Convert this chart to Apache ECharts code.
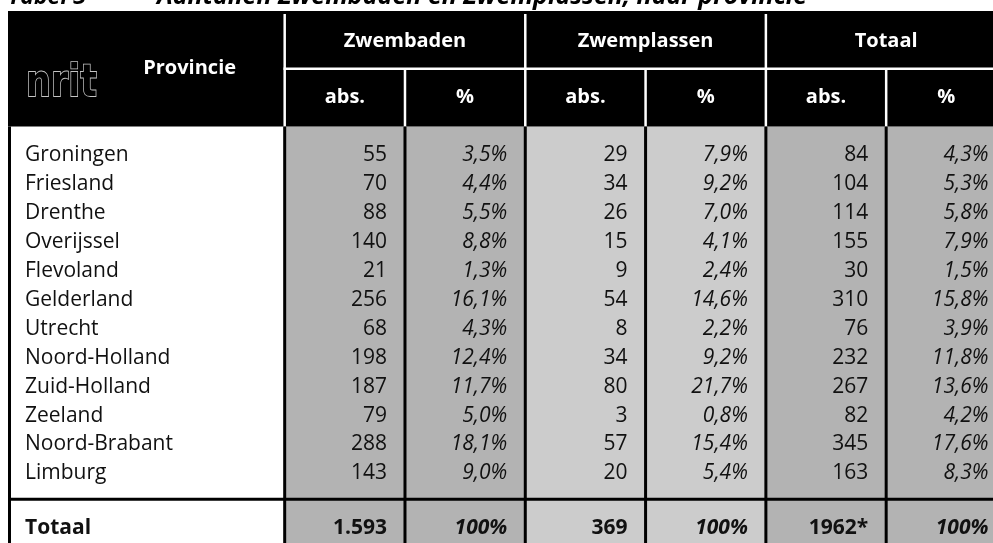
<!DOCTYPE html>
<html>
<head>
<meta charset="utf-8">
<title>Aantallen zwembaden en zwemplassen, naar provincie</title>
<script src="https://cdn.jsdelivr.net/npm/echarts@6/dist/echarts.min.js"></script>
<style>
  html, body { margin: 0; padding: 0; background: #fff; }
  #chart { width: 993px; height: 543px; }
</style>
</head>
<body>
<div id="chart"></div>
<script>
// gegevens uit de tabel
const provincies = ['Groningen', 'Friesland', 'Drenthe', 'Overijssel', 'Flevoland', 'Gelderland',
  'Utrecht', 'Noord-Holland', 'Zuid-Holland', 'Zeeland', 'Noord-Brabant', 'Limburg'];
const zwembadenAbs = [55, 70, 88, 140, 21, 256, 68, 198, 187, 79, 288, 143];
const zwembadenPct = [3.5, 4.4, 5.5, 8.8, 1.3, 16.1, 4.3, 12.4, 11.7, 5.0, 18.1, 9.0];
const zwemplassenAbs = [29, 34, 26, 15, 9, 54, 8, 34, 80, 3, 57, 20];
const zwemplassenPct = [7.9, 9.2, 7.0, 4.1, 2.4, 14.6, 2.2, 9.2, 21.7, 0.8, 15.4, 5.4];
const totaalAbs = [84, 104, 114, 155, 30, 310, 76, 232, 267, 82, 345, 163];
const totaalPct = [4.3, 5.3, 5.8, 7.9, 1.5, 15.8, 3.9, 11.8, 13.6, 4.2, 17.6, 8.3];
const totaalRij = ['Totaal', '1.593', '100%', '369', '100%', '1962*', '100%'];
const groepen = ['Zwembaden', 'Zwemplassen', 'Totaal'];
const kolomKoppen = ['abs.', '%'];
const titel = ['Tabel 3', 'Aantallen Zwembaden en Zwemplassen, naar provincie'];

// opmaak (eenheden: x = kolombreedte, y = rijhoogte)
const colEdges = [0, 2.3, 3.3, 4.3, 5.3, 6.3, 7.3, 8.3];
const colFill = ['#ffffff', '#b3b3b3', '#b3b3b3', '#cccccc', '#cccccc', '#b3b3b3', '#b3b3b3'];
const XMAX = 8.188;
const YMAX = 18.41;
const HEAD = 4;      // kop = 2 rijen van 2 eenheden
const FIRST = 5;     // midden eerste provincie
const SEP = 16.9;    // lijn boven totaal
const TOT = 17.9;    // midden totaalrij

const FONT = '"Open Sans", "Noto Sans", sans-serif';
const KOP = 'bold 20px ' + FONT;
const TEKST = '21px ' + FONT;
const CURSIEF = 'italic 21px ' + FONT;
const VET = 'bold 21px ' + FONT;
const VETCURSIEF = 'bold italic 21px ' + FONT;
const INKT = '#111';

const pct = v => v.toFixed(1).replace('.', ',') + '%';

// cellen opbouwen
const cellen = [];
cellen.push({ x: 1.51, y: HEAD / 2, t: 'Provincie', a: 'center', f: KOP, c: '#fff' });
groepen.forEach((g, i) => {
  cellen.push({ x: colEdges[2 + 2 * i], y: 1.05, t: g, a: 'center', f: KOP, c: '#fff' });
  kolomKoppen.forEach((k, j) => {
    const col = 1 + 2 * i + j;
    cellen.push({ x: (colEdges[col] + colEdges[col + 1]) / 2, y: 3, t: k, a: 'center', f: KOP, c: '#fff' });
  });
});
provincies.forEach((naam, i) => {
  const y = FIRST + i;
  const rij = [naam, zwembadenAbs[i], pct(zwembadenPct[i]), zwemplassenAbs[i], pct(zwemplassenPct[i]),
    totaalAbs[i], pct(totaalPct[i])];
  rij.forEach((t, col) => {
    if (col === 0) cellen.push({ x: colEdges[0], y, t, a: 'left', f: TEKST, c: INKT });
    else cellen.push({ x: colEdges[col + 1], y, t: String(t), a: 'right', f: col % 2 === 0 ? CURSIEF : TEKST, c: INKT });
  });
});
totaalRij.forEach((t, col) => {
  if (col === 0) cellen.push({ x: colEdges[0], y: TOT, t, a: 'left', f: VET, c: INKT });
  else cellen.push({ x: colEdges[col + 1], y: TOT, t, a: 'right', f: col % 2 === 0 ? VETCURSIEF : VET, c: INKT });
});

function renderFrame(params, api) {
  const children = [];
  const p = (x, y) => api.coord([x, y]);
  const rect = (x1, y1, x2, y2, fill) => {
    const a = p(x1, y1), b = p(x2, y2);
    children.push({ type: 'rect', shape: { x: a[0], y: a[1], width: b[0] - a[0], height: b[1] - a[1] }, style: { fill } });
  };
  const vline = (x, y1, y2, w, fill, dy) => {
    const a = p(x, y1), b = p(x, y2);
    children.push({ type: 'rect', shape: { x: a[0] - w / 2, y: a[1] + (dy || 0), width: w, height: b[1] - a[1] - (dy || 0) }, style: { fill } });
  };
  const hline = (y, x1, x2, w, fill) => {
    const a = p(x1, y), b = p(x2, y);
    children.push({ type: 'rect', shape: { x: a[0], y: a[1] - w / 2, width: b[0] - a[0], height: w }, style: { fill } });
  };
  // kolomvlakken
  for (let c = 0; c < colFill.length; c++) rect(colEdges[c], HEAD, colEdges[c + 1], YMAX + 1, colFill[c]);
  // zwarte kop
  rect(0, 0, colEdges[7], HEAD, '#000');
  // witte lijnen in de kop
  hline(2, colEdges[1] - 0.01, colEdges[7], 2.5, '#fff');
  [1, 3, 5].forEach(c => vline(colEdges[c], 0, HEAD, 2.5, '#fff', 3));
  [2, 4, 6].forEach(c => vline(colEdges[c], 2, HEAD, 2.5, '#fff'));
  // zwarte lijnen in het lichaam
  for (let c = 1; c < 7; c++) vline(colEdges[c], HEAD, YMAX + 1, 3, '#000');
  const l = p(0, HEAD), l2 = p(0, YMAX + 1);
  children.push({ type: 'rect', shape: { x: l[0], y: l[1], width: 3, height: l2[1] - l[1] }, style: { fill: '#000' } });
  hline(SEP, 0, colEdges[7], 3, '#000');
  return { type: 'group', children };
}

function renderCell(params, api) {
  const cel = cellen[params.dataIndex];
  const pt = api.coord([api.value(0), api.value(1)]);
  let x = pt[0];
  if (cel.a === 'left') x += 17;
  if (cel.a === 'right') x -= 18;
  return {
    type: 'text',
    x, y: pt[1],
    style: { text: cel.t, font: cel.f, fill: cel.c, align: cel.a, verticalAlign: 'middle' }
  };
}

const chart = echarts.init(document.getElementById('chart'), null, { renderer: 'canvas' });
chart.setOption({
  animation: false,
  grid: { left: 8, right: 0, top: 11, bottom: 0 },
  xAxis: { type: 'value', min: 0, max: XMAX, show: false },
  yAxis: { type: 'value', min: 0, max: YMAX, inverse: true, show: false },
  graphic: [
    { type: 'text', x: 8, y: -3, style: { text: titel[0], font: 'bold italic 23px ' + FONT, fill: '#000', verticalAlign: 'middle' } },
    { type: 'text', x: 157, y: -3.5, style: { text: titel[1], font: 'bold italic 25px ' + FONT, fill: '#000', verticalAlign: 'middle' } },
    { type: 'text', x: 26, y: 85, scaleY: 1.25, z: 10, style: { text: 'nrit', font: 'bold 35px "DejaVu Sans"', fill: '#000', stroke: '#c4c4c4', lineWidth: 1.4, verticalAlign: 'middle' } }
  ],
  series: [
    { type: 'custom', name: 'tabel', renderItem: renderFrame, data: [[0, 0]], silent: true, clip: false, z: 1 },
    { type: 'custom', name: 'cellen', renderItem: renderCell, data: cellen.map(c => [c.x, c.y]), silent: true, clip: false, z: 2 }
  ]
});
</script>
</body>
</html>
